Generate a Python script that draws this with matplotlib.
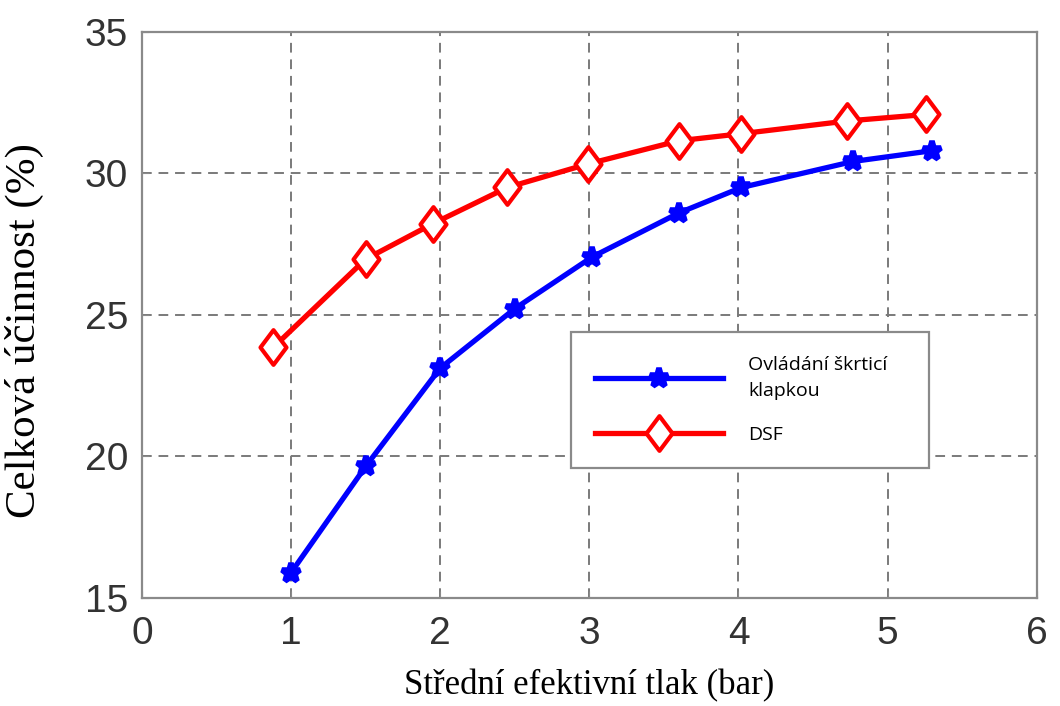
import matplotlib
matplotlib.use("Agg")
import matplotlib.pyplot as plt
from matplotlib.path import Path


# Throttle control (blue) and DSF (red) efficiency vs. BMEP
throttle_bmep = [1.0, 1.5, 2.0, 2.5, 3.02, 3.6, 4.02, 4.77, 5.3]
throttle_eff = [15.9, 19.65, 23.12, 25.22, 27.05, 28.6, 29.5, 30.42, 30.8]

dsf_bmep = [0.88, 1.5, 1.95, 2.45, 2.99, 3.6, 4.02, 4.73, 5.26]
dsf_eff = [23.85, 26.97, 28.22, 29.5, 30.33, 31.15, 31.4, 31.85, 32.08]

series_labels = ["Ovládání škrticí\nklapkou", "DSF"]
x_ticks = [0, 1, 2, 3, 4, 5, 6]
y_ticks = [15, 20, 25, 30, 35]

GRID = "#7a7a7a"
FRAME = "#8a8a8a"

# tall open diamond like the MATLAB one
tall_diamond = Path([(0, 1), (0.75, 0), (0, -1), (-0.75, 0), (0, 1)], closed=True)


def main() -> None:
    fig = plt.figure(figsize=(10.6, 7.06), dpi=100)
    ax = fig.add_axes([0.134, 0.153, 0.844, 0.802])

    ax.plot(throttle_bmep, throttle_eff, color="#0000ff", lw=3.8,
            marker="*", markersize=14, markeredgewidth=4,
            markerfacecolor="#0000ff", markeredgecolor="#0000ff",
            label=series_labels[0], zorder=3)
    ax.plot(dsf_bmep, dsf_eff, color="#ff0000", lw=3.8,
            marker=tall_diamond, markersize=25, markeredgewidth=3,
            markerfacecolor="white", markeredgecolor="#ff0000",
            label=series_labels[1], zorder=3)

    ax.set_xlim(0, 6)
    ax.set_ylim(15, 35)
    ax.set_xticks(x_ticks)
    ax.set_yticks(y_ticks)
    ax.tick_params(direction="in", length=5, color=FRAME, labelsize=28,
                   labelcolor="#333333")
    ax.tick_params(axis="x", pad=13)
    ax.tick_params(axis="y", pad=10)
    for label in ax.get_xticklabels() + ax.get_yticklabels():
        label.set_family("Liberation Sans")

    ax.grid(True, color=GRID, lw=1.4, linestyle=(0, (5, 3.5)))
    for spine in ax.spines.values():
        spine.set_color(FRAME)
        spine.set_linewidth(1.6)

    ax.set_xlabel("Střední efektivní tlak (bar)", family="Liberation Serif",
                  fontsize=25, labelpad=12)
    ax.set_ylabel("Celková účinnost (%)", family="Liberation Serif",
                  fontsize=31)
    ax.yaxis.set_label_coords(-0.11, 0.473)

    leg = ax.legend(loc="upper left", bbox_to_anchor=(0.479, 0.370, 0.401, 0.1),
                    mode="expand",
                    prop={"family": "Open Sans", "size": 14},
                    handlelength=6.6, handletextpad=1.3, borderpad=1.25,
                    labelspacing=1.35, fancybox=False, framealpha=1,
                    edgecolor=FRAME, borderaxespad=0)
    leg.get_frame().set_linewidth(1.6)
    for text in leg.get_texts():
        text.set_linespacing(1.55)

    fig.savefig("out.png", dpi=100)
    plt.close(fig)


if __name__ == "__main__":
    main()
